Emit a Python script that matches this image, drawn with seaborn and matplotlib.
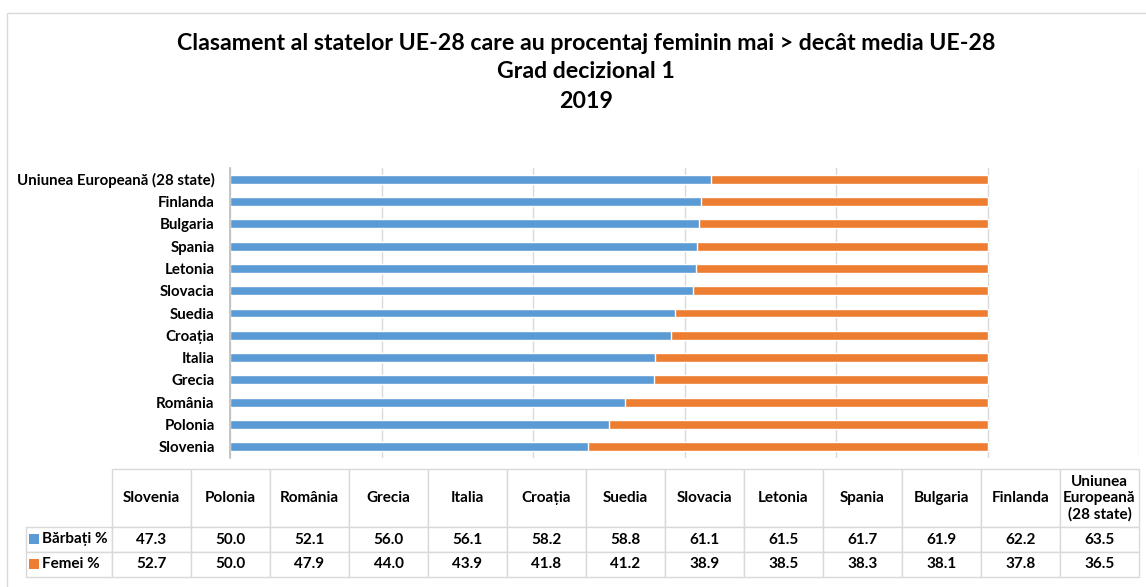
"""
Clasament UE-28: procentaj barbati / femei, grad decizional 1, 2019.
Bare orizontale stivuite + tabel de date sub grafic (stil Excel).
"""

import matplotlib
matplotlib.use('Agg')

import matplotlib.pyplot as plt
from matplotlib.patches import Rectangle
import pandas as pd
import seaborn as sns

# ordinea din tabel (stanga -> dreapta)
tari = ['Slovenia', 'Polonia', 'România', 'Grecia', 'Italia', 'Croația', 'Suedia',
        'Slovacia', 'Letonia', 'Spania', 'Bulgaria', 'Finlanda',
        'Uniunea Europeană (28 state)']
antet_tabel = ['Slovenia', 'Polonia', 'România', 'Grecia', 'Italia', 'Croația', 'Suedia',
               'Slovacia', 'Letonia', 'Spania', 'Bulgaria', 'Finlanda',
               'Uniunea\nEuropeană\n(28 state)']
barbati = [47.3, 50.0, 52.1, 56.0, 56.1, 58.2, 58.8, 61.1, 61.5, 61.7, 61.9, 62.2, 63.5]
femei = [52.7, 50.0, 47.9, 44.0, 43.9, 41.8, 41.2, 38.9, 38.5, 38.3, 38.1, 37.8, 36.5]
serii = ['Bărbați %', 'Femei %']

titlu = ['Clasament al statelor UE-28 care au procentaj feminin mai > decât media UE-28',
         'Grad decizional 1',
         '2019']

ALBASTRU = '#5B9BD5'
PORTOCALIU = '#ED7D31'
GRID = '#D9D9D9'
FONT = ['Lato', 'DejaVu Sans']

sns.set_theme(style='white')
plt.rcParams['font.family'] = FONT
plt.rcParams['font.weight'] = 'bold'

df = pd.DataFrame({'tara': tari, 'barbati': barbati, 'femei': femei})
df['total'] = df['barbati'] + df['femei']
ordine = tari[::-1]

W, H = 1146, 587
fig = plt.figure(figsize=(W / 100, H / 100), dpi=100)

# chenarul graficului
fig.patches.append(Rectangle((7 / W, -0.1), 1.2, 1.1 - 13 / H, transform=fig.transFigure,
                             fill=False, edgecolor=GRID, linewidth=1))

ax = fig.add_axes([230 / W, 1 - 458 / H, (1139 - 230) / W, (458 - 168) / H])
sns.barplot(data=df, y='tara', x='total', order=ordine, color=PORTOCALIU,
            saturation=1, width=0.4, ax=ax)
sns.barplot(data=df, y='tara', x='barbati', order=ordine, color=ALBASTRU,
            saturation=1, width=0.4, ax=ax)

ax.set_xlim(0, 120)
ax.set_xticks(range(0, 121, 20))
ax.set_xticklabels([])
ax.grid(axis='x', color=GRID, linewidth=1)
ax.set_axisbelow(True)
ax.set_xlabel('')
ax.set_ylabel('')
for s in ['top', 'right', 'bottom']:
    ax.spines[s].set_visible(False)
ax.spines['left'].set_color('#BFBFBF')
ax.tick_params(axis='both', length=0)
ax.tick_params(axis='y', pad=11, labelsize=10.8)
for lbl in ax.get_yticklabels():
    lbl.set_fontweight('bold')
    lbl.set_color('black')

# titlu
for txt, y in zip(titlu, [44, 72, 101]):
    fig.text(586 / W, 1 - y / H, txt, ha='center', va='center',
             fontsize=16.7, fontweight='bold', color='black')

# tabelul de date (prima coloana = etichetele seriilor)
ax_t = fig.add_axes([26 / W, 1 - 577 / H, (1139 - 26) / W, (577 - 469) / H])
ax_t.axis('off')
celule = [[serii[0]] + ['{:.1f}'.format(v) for v in barbati],
          [serii[1]] + ['{:.1f}'.format(v) for v in femei]]
tab = ax_t.table(cellText=celule, colLabels=[''] + antet_tabel,
                 cellLoc='center', colLoc='center', bbox=[0, 0, 1, 1])
tab.auto_set_font_size(False)
tab.set_fontsize(11)
for (r, c), cell in tab.get_celld().items():
    cell.set_edgecolor(GRID)
    cell.set_linewidth(1)
    cell.set_text_props(fontweight='bold', color='black')
    cell.set_height(58 if r == 0 else 25)
    cell.set_width(86 if c == 0 else 79)
    if c == 0:
        if r == 0:
            cell.set_visible(False)
        cell._loc = 'left'
        cell.PAD = 0.19
        cell.get_text().set_ha('left')

# cheile de legenda din tabel
for i, culoare in enumerate([ALBASTRU, PORTOCALIU]):
    y0 = 1 - (544 + 25 * i) / H
    fig.patches.append(Rectangle((29 / W, y0), 10 / W, 10 / H, transform=fig.transFigure,
                                 facecolor=culoare, edgecolor='none'))

fig.savefig('out.png', dpi=100)
plt.close()
